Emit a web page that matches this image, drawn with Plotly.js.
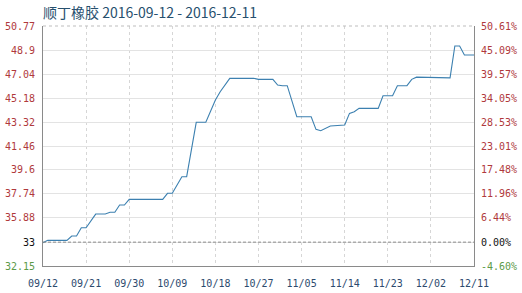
<!DOCTYPE html>
<html>
<head>
<meta charset="utf-8">
<script src="https://cdn.plot.ly/plotly-3.0.1.min.js"></script>
<style>html,body{margin:0;padding:0;background:#fff;}#chart{width:522px;height:293px;}</style>
</head>
<body>
<div id="chart"></div>
<script>
// Data
var dates = ['2016-09-12','2016-09-13','2016-09-17','2016-09-18','2016-09-19','2016-09-20','2016-09-21','2016-09-23','2016-09-25','2016-09-26','2016-09-27','2016-09-28','2016-09-29','2016-09-30','2016-10-07','2016-10-08','2016-10-09','2016-10-11','2016-10-12','2016-10-14','2016-10-16','2016-10-18','2016-10-19','2016-10-21','2016-10-26','2016-10-27','2016-10-30','2016-10-31','2016-11-01','2016-11-02','2016-11-04','2016-11-07','2016-11-08','2016-11-09','2016-11-11','2016-11-14','2016-11-15','2016-11-16','2016-11-17','2016-11-21','2016-11-22','2016-11-24','2016-11-25','2016-11-27','2016-11-28','2016-11-29','2016-12-06','2016-12-07','2016-12-08','2016-12-09','2016-12-11'];
var prices = [33.96,34.14,34.14,34.48,34.48,35.12,35.12,36.18,36.18,36.32,36.32,36.88,36.88,37.32,37.32,37.79,37.79,39.08,39.08,43.30,43.30,45.03,45.67,46.71,46.71,46.63,46.63,46.19,46.14,46.14,43.73,43.73,42.75,42.65,43.01,43.09,43.99,44.12,44.38,44.38,45.36,45.36,46.14,46.14,46.63,46.80,46.75,49.22,49.22,48.52,48.52];

var baseValue = 34.0;
var yTickVals = [50.77,48.9,47.04,45.18,43.32,41.46,39.6,37.74,35.88,34.0,32.15];
var yTickLeft = ['50.77','48.9','47.04','45.18','43.32','41.46','39.6','37.74','35.88','33','32.15'];
var yTickRight = ['50.61%','45.09%','39.57%','34.05%','28.53%','23.01%','17.48%','11.96%','6.44%','0.00%','-4.60%'];
var xTickVals = ['2016-09-12','2016-09-21','2016-09-30','2016-10-09','2016-10-18','2016-10-27','2016-11-05','2016-11-14','2016-11-23','2016-12-02','2016-12-11'];
var xTickText = ['09/12','09/21','09/30','10/09','10/18','10/27','11/05','11/14','11/23','12/02','12/11'];

var RED = '#b0393c', GREEN = '#5c9a48', BLACK = '#111111';
function colorize(arr){
  return arr.map(function(t,i){
    var c = (i === arr.length-2) ? BLACK : (i === arr.length-1 ? GREEN : RED);
    return '<span style="color:'+c+'">'+t+'</span>';
  });
}

var traces = [
  {x: dates, y: prices, type:'scatter', mode:'lines', line:{color:'#3c80b0', width:1.1}, hoverinfo:'skip', yaxis:'y'},
  {x: dates, y: prices, type:'scatter', mode:'lines', line:{color:'rgba(0,0,0,0)', width:0}, hoverinfo:'skip', yaxis:'y2', showlegend:false}
];

var tickFont = {family:'DejaVu Sans Mono, monospace', size:10, color:RED};
var layout = {
  width:522, height:293,
  margin:{l:43, r:48, t:26, b:27},
  paper_bgcolor:'#ffffff', plot_bgcolor:'#ffffff',
  showlegend:false,
  title:{text:'顺丁橡胶 2016-09-12 - 2016-12-11', x:0, xref:'paper', xanchor:'left', y:0.955, yref:'container', yanchor:'middle',
         font:{family:'Noto Sans CJK SC, sans-serif', size:14, color:'#27506e'}},
  xaxis:{type:'date', range:[xTickVals[0], xTickVals[xTickVals.length-1]], tickmode:'array', tickvals:xTickVals, ticktext:xTickText,
         showgrid:true, gridcolor:'#d6d6d6', griddash:'dot', gridwidth:1, showline:true, linecolor:'#8a8a8a', linewidth:1,
         ticks:'', ticklabelstandoff:8, tickfont:{family:'DejaVu Sans Mono, monospace', size:10, color:'#2c4a6e'}, zeroline:false, fixedrange:true},
  yaxis:{range:[32.15, 50.77], tickmode:'array', tickvals:yTickVals, ticktext:colorize(yTickLeft),
         showgrid:true, gridcolor:'#e3e3e3', gridwidth:1, showline:true, linecolor:'#8a8a8a', linewidth:1,
         ticks:'', ticklabelstandoff:5, tickfont:tickFont, zeroline:false, fixedrange:true},
  yaxis2:{range:[32.15, 50.77], overlaying:'y', side:'right', tickmode:'array', tickvals:yTickVals, ticktext:colorize(yTickRight),
          showgrid:false, showline:true, linecolor:'#8a8a8a', linewidth:1, ticks:'', ticklabelstandoff:4, tickfont:tickFont, zeroline:false, fixedrange:true},
  shapes:[
    {type:'line', xref:'paper', x0:0, x1:1, yref:'y', y0:baseValue, y1:baseValue, line:{color:'#8c8c8c', width:1, dash:'3px,2px'}},
    {type:'line', xref:'paper', x0:0, x1:1, yref:'paper', y0:1, y1:1, line:{color:'#bdbdbd', width:1, dash:'dot'}}
  ]
};
Plotly.newPlot('chart', traces, layout, {staticPlot:true, displayModeBar:false});
</script>
</body>
</html>
